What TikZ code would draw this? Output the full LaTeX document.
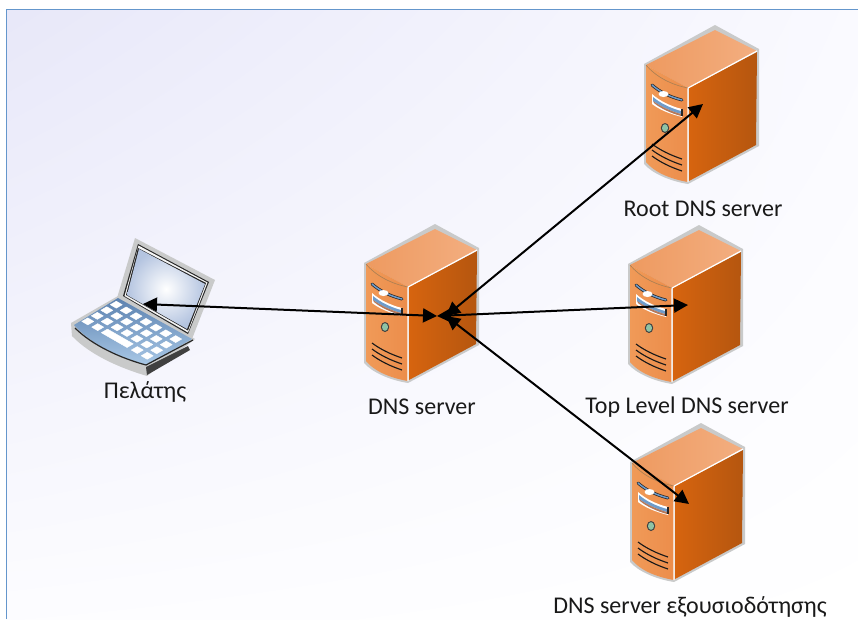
\documentclass[tikz,border=0pt]{standalone}
\usepackage{fontspec}
\setmainfont{Carlito}
\usetikzlibrary{arrows.meta, shadings}
\definecolor{frameblue}{HTML}{6496CC}
\definecolor{shellgray}{HTML}{C9CACA}
\definecolor{faceA}{HTML}{F09A58}
\definecolor{faceB}{HTML}{EC8D4B}
\definecolor{topA}{HTML}{EE9A60}
\definecolor{topB}{HTML}{F3AE80}
\definecolor{sideA}{HTML}{D6640F}
\definecolor{sideB}{HTML}{B5560F}
\definecolor{kbdA}{HTML}{5C82B0}
\definecolor{kbdB}{HTML}{A9C8E6}
\definecolor{bayblue}{HTML}{6F9CCB}
\definecolor{baybrown}{HTML}{B5785A}
\definecolor{lampgreen}{HTML}{8FC3A5}
\definecolor{screenblue}{HTML}{B4C4E0}
\tikzset{
devlabel/.style={font=\fontsize{18}{20}\selectfont, text=black!90, inner sep=0pt},
link/.style={line width=1.5pt, {Triangle[length=10.5pt,width=10.5pt]}-{Triangle[length=10.5pt,width=10.5pt]}},
vent/.style={line width=0.85pt, black!90},
keycap/.style={fill=white, draw=white, line width=0.3pt, line join=round},
serverpic/.pic={
    % shell
    \fill[shellgray] (71,0)--(115,24)--(115,121)--(44,159)
        .. controls (25,156) and (8,148) .. (0,139)--(0,39)--cycle;
    % top, front, side
    \shade[left color=topA, right color=topB] (2,40)--(71,5)--(113,26)--(44,63)--cycle;
    \shade[left color=faceA, right color=faceB] (2,40)--(44,63)--(44,157)
        .. controls (26,154) and (10,147) .. (2,137)--cycle;
    \shade[left color=sideA, right color=sideB] (45,63)--(113,27)--(112,120)--(45,156)--cycle;
    \draw[white, line width=0.9pt] (113,26)--(44,63)--(44,157);
    \draw[brown!70!gray, line width=0.5pt] (2,40) .. controls (12,52) and (28,60) .. (44,63);
    % drive slots
    \draw[black!85, line width=2.2pt, line cap=round] (8,60) .. controls (16,67) and (26,72) .. (38,75);
    \draw[bayblue, line width=1.1pt, line cap=round] (8,60) .. controls (16,67) and (26,72) .. (38,75);
    \fill[white] (19.5,69) ellipse (5 and 3);
    \fill[white] (8,69) .. controls (16,76) and (26,81) .. (38,84)--(38,92)
        .. controls (26,89) and (16,85) .. (8,79)--cycle;
    \fill[bayblue] (9,72) .. controls (16,78) and (26,83) .. (37,86)--(37,89)
        .. controls (26,86) and (16,81) .. (9,76)--cycle;
    \fill[baybrown] (9,76) .. controls (16,81) and (26,86) .. (37,89)--(37,91)
        .. controls (26,88) and (16,83) .. (10,78)--cycle;
    \draw[black!85, line width=0.9pt] (38,84)--(38,91);
    % lamp
    \fill[black!75] (21,103) ellipse (4.2 and 5);
    \fill[lampgreen] (21,103) ellipse (3 and 3.8);
    % vents
    \draw[vent] (8,119) .. controls (16,125) and (26,130) .. (38,134);
    \draw[vent] (8,125) .. controls (16,131) and (26,136) .. (38,140);
    \draw[vent] (8,131) .. controls (16,137) and (26,142) .. (38,146);
},
}

\begin{document}
\begin{tikzpicture}[x=0.75pt, y=-0.75pt]
    \useasboundingbox (0,0) rectangle (858,619);

    %background and frame
    \shade[upper left=blue!7!white!95!gray, upper right=blue!2!white, lower left=blue!1!white, lower right=white]
        (6.5,9.5) rectangle (858,619);
    \draw[frameblue, line width=1.3pt] (6.5,619)--(6.5,9.5)--(858,9.5);

    %servers
    \pic at (364,224) {serverpic};
    \pic at (644,25)  {serverpic};
    \pic at (628,225) {serverpic};
    \pic at (630,423) {serverpic};

    %laptop: lid
    \fill[shellgray] (135,238)--(215,280)--(192,339)--(117,298)--cycle;
    \fill[black!85] (138,244)--(209,282)--(188,334)--(123,296)--cycle;
    \fill[white!92!gray] (138.5,245.5)--(207.5,282.5)--(188,332.5)--(124.5,296)--cycle;
    \fill[black!85] (138,248)--(206,283)--(188,330.5)--(126,295)--cycle;
    \shade[inner color=white, outer color=screenblue] (139,249)--(205,284)--(187,329)--(127,295)--cycle;

    %laptop: base
    \fill[shellgray] (71,323)--(118,296)--(195,339)--(147,376)
        .. controls (120,368) and (90,355) .. (72,336)--cycle;
    \shade[top color=kbdA, bottom color=kbdB] (74,325)--(118,298)--(192,339)--(147,365)
        .. controls (120,358) and (92,345) .. (74,325)--cycle;
    \draw[black!85, line width=0.9pt] (75,328) .. controls (92,345) and (120,358) .. (146,365)--(193,340);
    \fill[black!75] (146,367)--(188,346)--(190,350)--(147,375)--cycle;

    %keys
    \foreach \j in {0,1,2}
        \foreach \i in {0,...,6}
            \fill[keycap, shift={({116.3+\i*9.9-\j*9.5},{304.7+\i*5.73+\j*5.57})}]
                (-6,0)--(0,-3.5)--(6,0)--(0,3.5)--cycle;
    \foreach \i in {0,1,5,6}
        \fill[keycap, shift={({116.3+\i*9.9-3*9.5},{304.7+\i*5.73+3*5.57})}]
            (-6,0)--(0,-3.5)--(6,0)--(0,3.5)--cycle;
    \fill[keycap] (107.5,329.1)--(133.3,343.9)--(127.1,347.5)--(101.3,332.7)--cycle;

    %labels
    \node[devlabel] (client) at (145,392) {Πελάτης};
    \node[devlabel] (dns)    at (422,407) {DNS server};
    \node[devlabel] (root)   at (703,209) {Root DNS server};
    \node[devlabel] (tld)    at (687,407) {Top Level DNS server};
    \node[devlabel] (auth)   at (690,607) {DNS server εξουσιοδότησης};

    %line ends
    \coordinate (clientport) at (143,304);
    \coordinate (hubA) at (437,316);
    \coordinate (hubB) at (446,316);
    \coordinate (rootport) at (703,104);
    \coordinate (tldport)  at (688,305);
    \coordinate (authport) at (689,504);

    %arrows
    \draw[link] (clientport)--(hubA);
    \draw[link] (hubA)--(tldport);
    \draw[link] (hubB)--(rootport);
    \draw[link] (hubB)--(authport);

\end{tikzpicture}
\end{document}
